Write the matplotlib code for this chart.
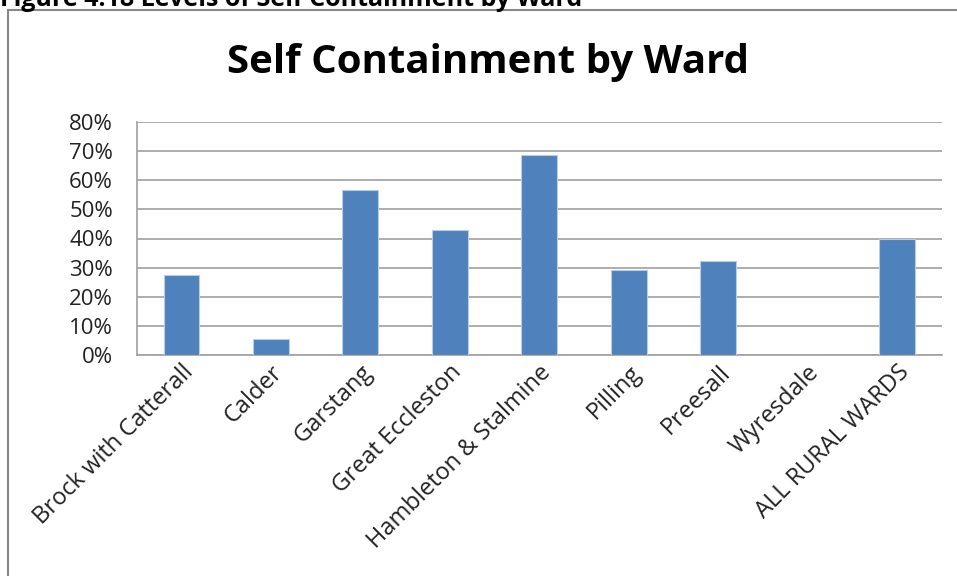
import matplotlib
matplotlib.use("Agg")
import matplotlib.pyplot as plt
from matplotlib.patches import Rectangle
from matplotlib.ticker import PercentFormatter

wards = ["Brock with Catterall", "Calder", "Garstang", "Great Eccleston",
         "Hambleton & Stalmine", "Pilling", "Preesall", "Wyresdale",
         "ALL RURAL WARDS"]
values = [27.4, 5.4, 56.8, 42.8, 68.7, 29.1, 32.2, 0.0, 40.0]
yticks = [0, 10, 20, 30, 40, 50, 60, 70, 80]

plt.rcParams['font.family'] = ['Open Sans', 'DejaVu Sans']

W, H = 957, 576
fig = plt.figure(figsize=(W / 100, H / 100), dpi=100)
ax = fig.add_axes([136.7 / W, 1 - 355 / H, (941.7 - 136.7) / W, (355 - 122) / H])

x = list(range(len(wards)))
ax.bar(x, values, width=0.4, color="#4F81BD", edgecolor="#B9CDE5", linewidth=0.8, zorder=3)
ax.set_xlim(-0.5, len(wards) - 0.5)
ax.set_ylim(0, 80)
ax.set_yticks(yticks)
ax.yaxis.set_major_formatter(PercentFormatter(decimals=0))
ax.grid(axis='y', color='#A0A0A0', linewidth=1.2, zorder=0)
ax.tick_params(axis='both', length=0, colors='#222222')
ax.tick_params(axis='y', pad=17, labelsize=16)
ax.tick_params(axis='x', pad=4)
ax.set_xticks(x)
ax.set_xticklabels(wards, rotation=45, ha='right', rotation_mode='anchor', fontsize=17)
for s in ['top', 'right']:
    ax.spines[s].set_visible(False)
for s in ['left', 'bottom']:
    ax.spines[s].set_color('#A0A0A0')
    ax.spines[s].set_linewidth(1.2)

fig.text(488 / W, 1 - 62 / H, "Self Containment by Ward", ha='center', va='center',
         fontsize=29, fontweight='bold', color='black')

# chart frame
fig.patches.append(Rectangle((8 / W, -0.1), 1.2, 1 - 10 / H + 0.1, transform=fig.transFigure,
                             fill=False, edgecolor='#888888', linewidth=1.5))
# cropped caption
fig.text(0.0, 1 + 1 / H, "Figure 4.18 Levels of Self Containment by Ward", ha='left', va='center',
         fontsize=18, fontweight='bold', color='black')

fig.savefig("out.png", dpi=100)
